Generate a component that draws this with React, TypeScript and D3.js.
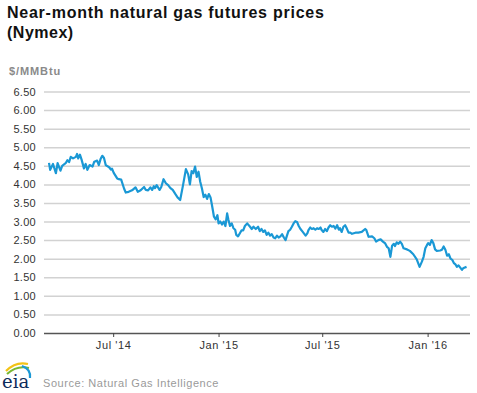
import React, { useEffect, useRef } from 'react';
import * as d3 from 'd3';

// near-month futures, $/MMBtu
const dates = [
  '2014-03-11', '2014-03-13', '2014-03-18', '2014-03-23', '2014-03-26', '2014-03-31', '2014-04-03', '2014-04-09',
  '2014-04-12', '2014-04-15', '2014-04-18', '2014-04-22', '2014-04-27', '2014-04-29', '2014-05-01', '2014-05-04',
  '2014-05-07', '2014-05-11', '2014-05-14', '2014-05-17', '2014-05-21', '2014-05-26', '2014-05-29', '2014-06-03',
  '2014-06-06', '2014-06-09', '2014-06-12', '2014-06-15', '2014-06-18', '2014-06-24', '2014-06-27', '2014-06-29',
  '2014-07-02', '2014-07-08', '2014-07-11', '2014-07-15', '2014-07-20', '2014-07-23', '2014-07-28', '2014-08-03',
  '2014-08-09', '2014-08-13', '2014-08-18', '2014-08-24', '2014-08-27', '2014-08-31', '2014-09-04', '2014-09-07',
  '2014-09-10', '2014-09-12', '2014-09-15', '2014-09-20', '2014-09-23', '2014-09-27', '2014-10-01', '2014-10-05',
  '2014-10-09', '2014-10-13', '2014-10-18', '2014-10-22', '2014-10-26', '2014-10-31', '2014-11-05', '2014-11-09',
  '2014-11-12', '2014-11-15', '2014-11-18', '2014-11-21', '2014-11-24', '2014-11-27', '2014-11-30', '2014-12-03',
  '2014-12-06', '2014-12-09', '2014-12-12', '2014-12-15', '2014-12-18', '2014-12-21', '2014-12-24', '2014-12-27',
  '2014-12-30', '2015-01-01', '2015-01-04', '2015-01-07', '2015-01-10', '2015-01-13', '2015-01-16', '2015-01-18',
  '2015-01-21', '2015-01-24', '2015-01-27', '2015-01-30', '2015-02-01', '2015-02-04', '2015-02-07', '2015-02-10',
  '2015-02-13', '2015-02-16', '2015-02-20', '2015-02-25', '2015-02-28', '2015-03-03', '2015-03-07', '2015-03-11',
  '2015-03-14', '2015-03-17', '2015-03-20', '2015-03-23', '2015-03-26', '2015-03-29', '2015-04-01', '2015-04-04',
  '2015-04-07', '2015-04-10', '2015-04-13', '2015-04-16', '2015-04-19', '2015-04-22', '2015-04-25', '2015-04-28',
  '2015-04-30', '2015-05-03', '2015-05-06', '2015-05-09', '2015-05-12', '2015-05-15', '2015-05-18', '2015-05-21',
  '2015-05-24', '2015-05-27', '2015-05-30', '2015-06-02', '2015-06-05', '2015-06-07', '2015-06-10', '2015-06-13',
  '2015-06-16', '2015-06-19', '2015-06-22', '2015-06-25', '2015-06-28', '2015-06-30', '2015-07-03', '2015-07-06',
  '2015-07-09', '2015-07-12', '2015-07-15', '2015-07-18', '2015-07-21', '2015-07-24', '2015-07-27', '2015-07-30',
  '2015-08-01', '2015-08-04', '2015-08-07', '2015-08-10', '2015-08-13', '2015-08-16', '2015-08-19', '2015-08-22',
  '2015-08-28', '2015-09-02', '2015-09-08', '2015-09-14', '2015-09-16', '2015-09-20', '2015-09-26', '2015-09-30',
  '2015-10-03', '2015-10-07', '2015-10-11', '2015-10-15', '2015-10-19', '2015-10-22', '2015-10-25', '2015-10-28',
  '2015-10-31', '2015-11-03', '2015-11-05', '2015-11-08', '2015-11-11', '2015-11-14', '2015-11-17', '2015-11-20',
  '2015-11-26', '2015-12-01', '2015-12-07', '2015-12-13', '2015-12-18', '2015-12-22', '2015-12-25', '2015-12-28',
  '2015-12-31', '2016-01-02', '2016-01-05', '2016-01-08', '2016-01-11', '2016-01-14', '2016-01-17', '2016-01-23',
  '2016-01-26', '2016-01-29', '2016-02-01', '2016-02-04', '2016-02-07', '2016-02-10', '2016-02-13', '2016-02-16',
  '2016-02-19', '2016-02-21', '2016-02-24', '2016-02-27', '2016-03-01', '2016-03-03', '2016-03-06', '2016-03-09',
];

const prices = [
  4.58, 4.39, 4.55, 4.30, 4.57, 4.37, 4.50, 4.57,
  4.65, 4.60, 4.74, 4.70, 4.74, 4.82, 4.70, 4.80,
  4.66, 4.43, 4.55, 4.39, 4.52, 4.48, 4.61, 4.64,
  4.52, 4.68, 4.77, 4.71, 4.52, 4.46, 4.40, 4.42,
  4.31, 4.16, 4.14, 4.13, 3.89, 3.78, 3.80, 3.84,
  3.92, 3.80, 3.84, 3.93, 3.85, 3.84, 3.92, 3.85,
  3.95, 3.90, 3.98, 3.85, 3.93, 4.14, 4.03, 3.98,
  3.90, 3.85, 3.73, 3.64, 3.58, 3.98, 4.41, 4.27,
  4.00, 4.36, 4.30, 4.48, 4.20, 4.34, 4.07, 3.89,
  3.66, 3.72, 3.61, 3.74, 3.65, 3.40, 3.13, 3.06,
  3.17, 2.95, 3.00, 2.92, 3.00, 2.88, 3.22, 3.06,
  2.88, 2.95, 2.82, 2.78, 2.64, 2.60, 2.68, 2.76,
  2.76, 2.88, 2.95, 2.86, 2.80, 2.86, 2.80, 2.86,
  2.74, 2.80, 2.72, 2.76, 2.64, 2.70, 2.62, 2.66,
  2.57, 2.55, 2.62, 2.57, 2.60, 2.66, 2.57, 2.50,
  2.60, 2.74, 2.78, 2.86, 2.95, 3.01, 2.99, 2.88,
  2.80, 2.74, 2.68, 2.62, 2.68, 2.77, 2.84, 2.80,
  2.82, 2.78, 2.82, 2.80, 2.84, 2.77, 2.72, 2.80,
  2.74, 2.84, 2.90, 2.86, 2.88, 2.81, 2.90, 2.78,
  2.82, 2.72, 2.86, 2.90, 2.81, 2.70, 2.70, 2.67,
  2.70, 2.70, 2.72, 2.80, 2.77, 2.59, 2.60, 2.55,
  2.46, 2.50, 2.52, 2.46, 2.41, 2.32, 2.28, 2.05,
  2.35, 2.40, 2.34, 2.44, 2.40, 2.46, 2.40, 2.28,
  2.25, 2.21, 2.12, 1.98, 1.78, 1.92, 2.05, 2.28,
  2.37, 2.42, 2.37, 2.50, 2.42, 2.25, 2.21, 2.22,
  2.24, 2.33, 2.24, 2.08, 2.12, 2.00, 1.97, 1.88,
  1.84, 1.78, 1.82, 1.76, 1.70, 1.74, 1.76, 1.78,
];

const yTicks = [0, 0.5, 1, 1.5, 2, 2.5, 3, 3.5, 4, 4.5, 5, 5.5, 6, 6.5];
const xTicks = ['2014-07-01', '2015-01-01', '2015-07-01', '2016-01-01'];

const FONT = '"Liberation Sans", Arial, sans-serif';

const App = () => {
  const svgRef = useRef<SVGSVGElement>(null);

  useEffect(() => {
    const width = 477;
    const height = 393;
    const parse = d3.timeParse('%Y-%m-%d');

    const svg = d3.select(svgRef.current)
      .attr('width', width)
      .attr('height', height);
    svg.selectAll('*').remove();

    const x = d3.scaleTime()
      .domain([parse('2014-03-04')!, parse('2016-03-15')!])
      .range([45, 470]);
    const y = d3.scaleLinear().domain([0, 6.5]).range([333, 91.5]);

    // titles
    svg.append('text')
      .attr('x', 7).attr('y', 18)
      .attr('font-family', FONT).attr('font-size', 16).attr('font-weight', 'bold')
      .attr('letter-spacing', 0.75)
      .attr('fill', '#111')
      .text('Near-month natural gas futures prices');
    svg.append('text')
      .attr('x', 7).attr('y', 38)
      .attr('font-family', FONT).attr('font-size', 16).attr('font-weight', 'bold')
      .attr('letter-spacing', 0.5)
      .attr('fill', '#111')
      .text('(Nymex)');
    svg.append('text')
      .attr('x', 9).attr('y', 74.5)
      .attr('font-family', FONT).attr('font-size', 11).attr('font-weight', 'bold')
      .attr('letter-spacing', 0.9)
      .attr('fill', '#8a8a8a')
      .text('$/MMBtu');

    // y grid + labels
    const yAxis = d3.axisLeft(y)
      .tickValues(yTicks)
      .tickSize(-(470 - 44))
      .tickPadding(8)
      .tickFormat(d => d3.format('.2f')(d as number));
    const gy = svg.append('g').attr('transform', 'translate(44,0)').call(yAxis);
    gy.select('.domain').remove();
    gy.selectAll('line')
      .attr('stroke', d => (d === 0 ? '#555' : '#d2d2d2'))
      .attr('stroke-width', 1.5);
    gy.selectAll('text')
      .attr('font-family', FONT).attr('font-size', 11).attr('letter-spacing', 0.3).attr('fill', '#333');

    // x axis ticks + labels
    const xAxis = d3.axisBottom(x)
      .tickValues(xTicks.map(s => parse(s)!))
      .tickSize(4)
      .tickPadding(4)
      .tickFormat(d => d3.timeFormat("%b '%y")(d as Date));
    const gx = svg.append('g').attr('transform', 'translate(0,333)').call(xAxis);
    gx.select('.domain').remove();
    gx.selectAll('line').attr('stroke', '#444').attr('stroke-width', 1);
    gx.selectAll('text')
      .attr('font-family', FONT).attr('font-size', 11).attr('letter-spacing', 0.6).attr('fill', '#333');

    // price line
    const pts = dates.map((d, i) => ({ date: parse(d)!, value: prices[i] }));
    const line = d3.line<{ date: Date; value: number }>()
      .x(d => x(d.date))
      .y(d => y(d.value));
    svg.append('path')
      .datum(pts)
      .attr('d', line)
      .attr('fill', 'none')
      .attr('stroke', '#1a98d5')
      .attr('stroke-width', 2.2)
      .attr('stroke-linejoin', 'round');

    // eia logo
    const logo = svg.append('g');
    logo.append('path').attr('d', 'M6,371 Q16,361 28,364').attr('fill', 'none').attr('stroke', '#f3c316').attr('stroke-width', 2.2);
    logo.append('path').attr('d', 'M7,374 Q17,365 29,368').attr('fill', 'none').attr('stroke', '#79b833').attr('stroke-width', 2.2);
    logo.append('path').attr('d', 'M22,366 Q31,369 30,378').attr('fill', 'none').attr('stroke', '#1a98d5').attr('stroke-width', 2.2);
    logo.append('text')
      .attr('x', 2).attr('y', 388)
      .attr('font-family', '"DejaVu Serif", "Liberation Serif", serif').attr('font-size', 18)
      .attr('fill', '#0d2c5c')
      .text('eia');

    svg.append('text')
      .attr('x', 43).attr('y', 386.5)
      .attr('font-family', FONT).attr('font-size', 11)
      .attr('letter-spacing', 0.55)
      .attr('fill', '#9a9a9a')
      .text('Source: Natural Gas Intelligence');
  }, []);

  return <svg ref={svgRef} style={{ position: 'absolute', left: 0, top: 0 }} />;
};

export default App;
